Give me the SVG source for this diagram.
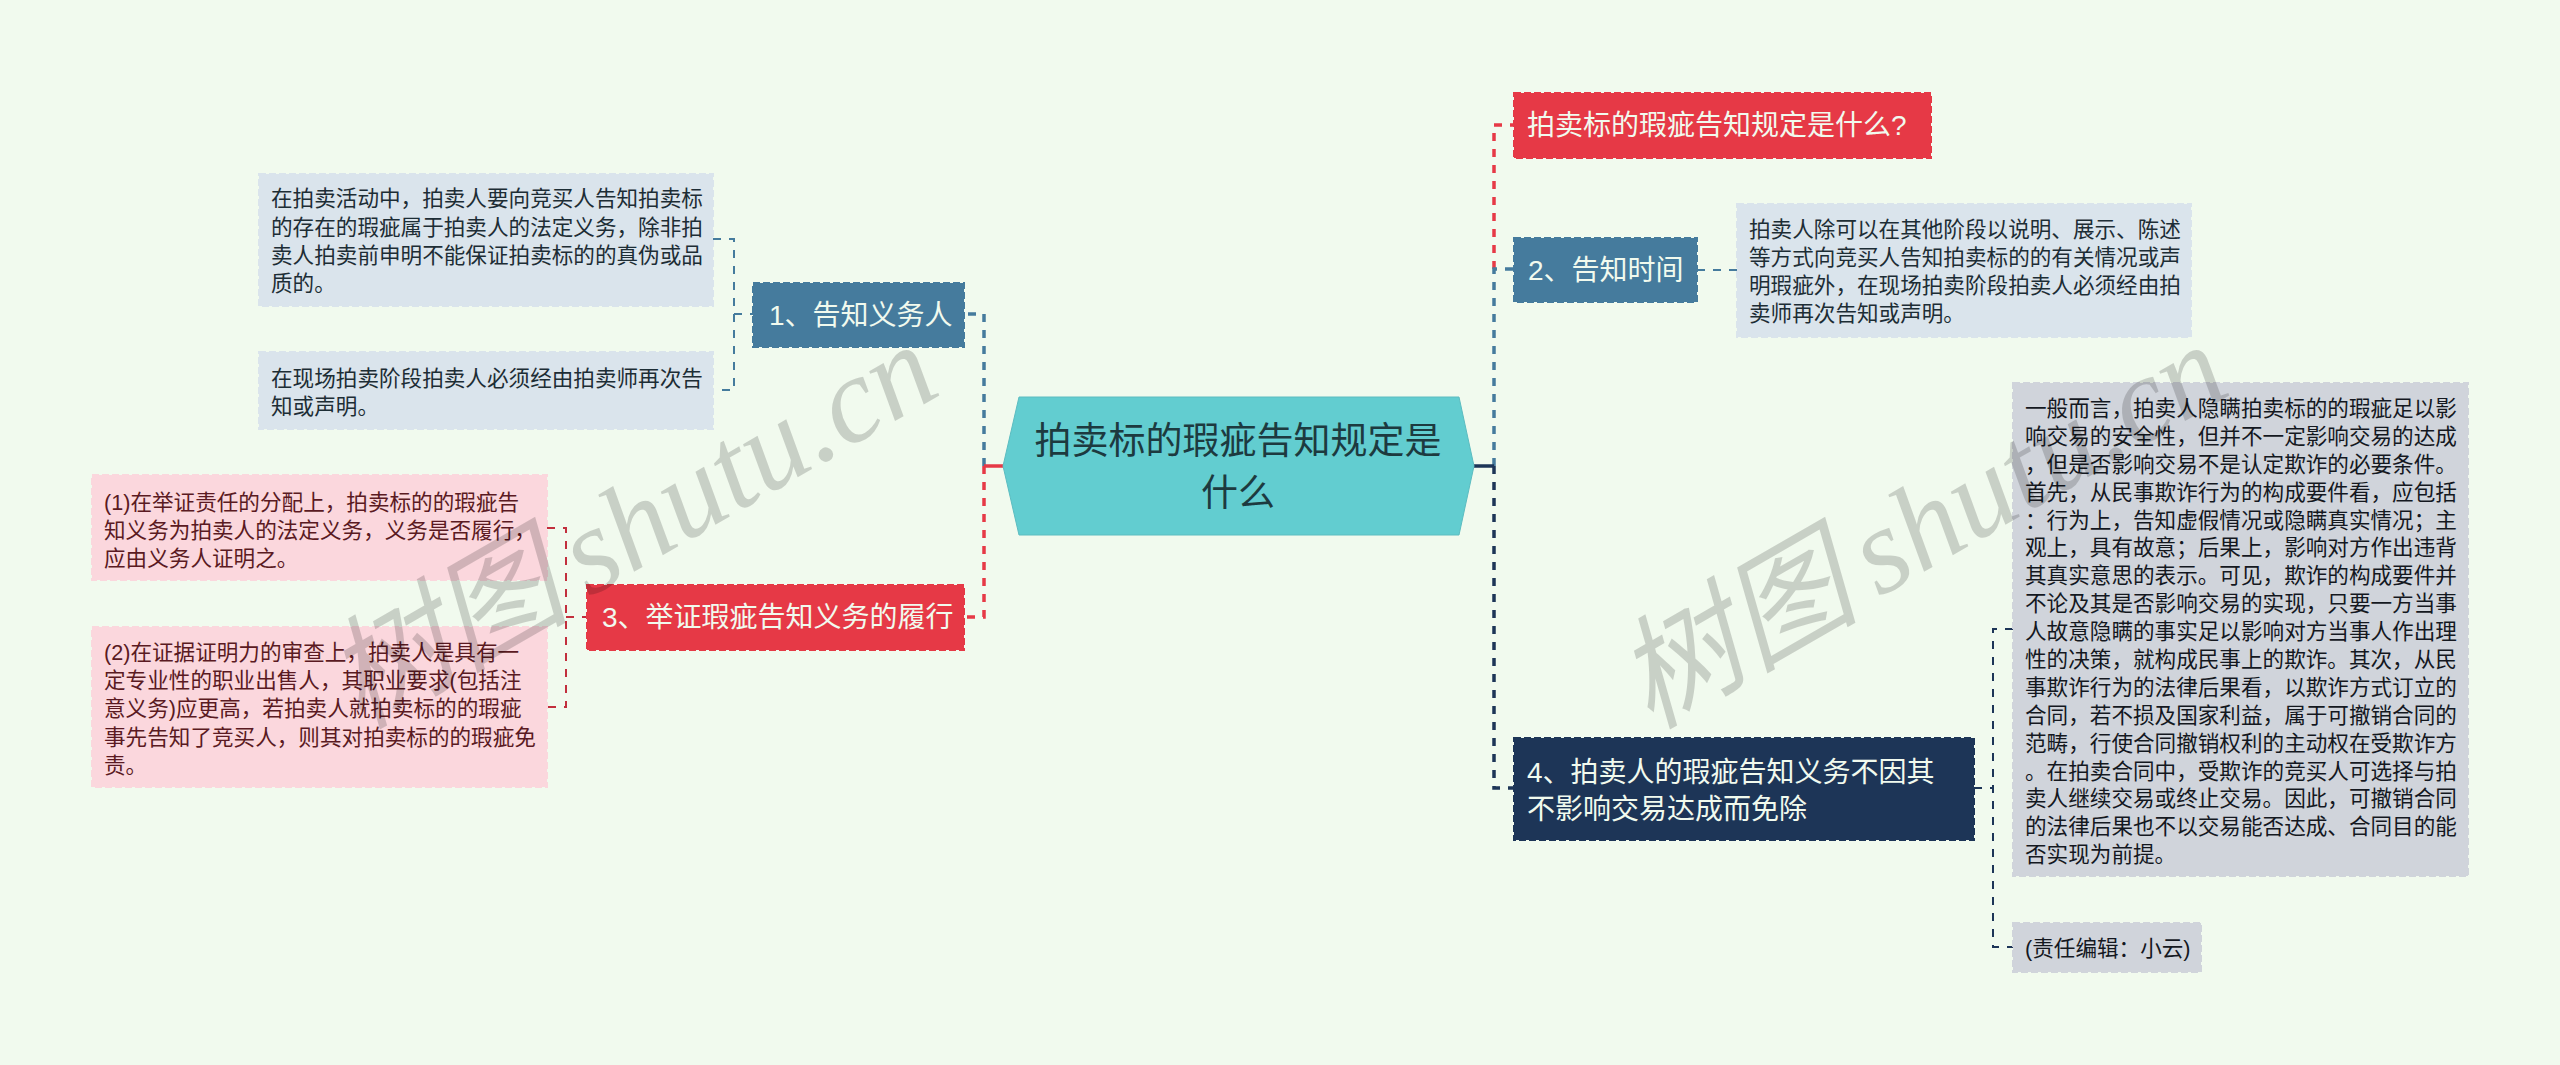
<svg xmlns="http://www.w3.org/2000/svg" width="2560" height="1065" viewBox="0 0 2560 1065">
<style>
text{font-family:"Liberation Sans","Noto Sans CJK SC",sans-serif}
.box{stroke-width:2;stroke-dasharray:7 3}
.t1{font-size:28px;fill:#f1faee}
.t2{font-size:21.6px}
.c1{fill:none;stroke-width:3.5;stroke-dasharray:8 8}
.c2{fill:none;stroke-width:2;stroke-dasharray:8 8}
.red{stroke:#e63946}.blue{stroke:#457b9d}.navy{stroke:#1d3557}
.dred{stroke:#c22f3d}
.wm{font-family:"Liberation Serif","Noto Sans CJK SC",serif;font-size:122px;font-style:italic;fill:#000;fill-opacity:.17}
</style>
<rect width="2560" height="1065" fill="#f1faee"/>
<g id="connectors">
<path class="c1 blue" d="M984 466V314H964" stroke-dashoffset="0"/>
<path class="c1 red" d="M984 466V617H964"/>
<path class="c1 red" d="M1494 269V125H1513" />
<path class="c1 blue" d="M1494 466V269H1513"/>
<path class="c1 navy" d="M1494 466V788H1513"/>
<path d="M984 466H1003" stroke="#e63946" stroke-width="3.5" fill="none"/>
<path d="M1474 466H1494" stroke="#1d3557" stroke-width="3.5" fill="none"/>
<path class="c2 blue" d="M713 239H734V390H713M734 314H753"/>
<path class="c2 dred" d="M547 528H566V707H547M566 617H587"/>
<path class="c2 blue" d="M1697 270H1737"/>
<path class="c2 navy" d="M2013 629H1993V947H2013M1974 788H1993"/>
</g>
<g id="root">
<polygon points="1019,397 1459,397 1474,466 1459,535 1019,535 1003,466" fill="#62cdd0" stroke="#5cbcc0" stroke-width="1"/>
<text x="1238" y="454" text-anchor="middle" font-size="37" fill="#1d3a3f">拍卖标的瑕疵告知规定是</text>
<text x="1238" y="506" text-anchor="middle" font-size="37" fill="#1d3a3f">什么</text>
</g>
<g id="node-top">
<rect class="box" x="1514" y="93" width="417" height="65" fill="#e63946" stroke="#e63946"/>
<text class="t1" x="1527" y="135">拍卖标的瑕疵告知规定是什么?</text>
</g>
<g id="node-2">
<rect class="box" x="1514" y="238" width="183" height="64" fill="#457b9d" stroke="#457b9d"/>
<text class="t1" x="1528" y="280">2、告知时间</text>
</g>
<g id="node-2-detail">
<rect class="box" x="1737" y="204" width="454" height="133" fill="#dae4ec" stroke="#dae4ec"/>
<g class="t2" fill="#1d2d35">
<text x="1749" y="237">拍卖人除可以在其他阶段以说明、展示、陈述</text>
<text x="1749" y="265">等方式向竞买人告知拍卖标的的有关情况或声</text>
<text x="1749" y="293">明瑕疵外&#xFF0C;在现场拍卖阶段拍卖人必须经由拍</text>
<text x="1749" y="321">卖师再次告知或声明。</text>
</g>
</g>
<g id="node-4">
<rect class="box" x="1514" y="738" width="460" height="102" fill="#1d3557" stroke="#1d3557"/>
<text class="t1" x="1527" y="782">4、拍卖人的瑕疵告知义务不因其</text>
<text class="t1" x="1527" y="819">不影响交易达成而免除</text>
</g>
<g id="node-4-detail">
<rect class="box" x="2013" y="383" width="455" height="493" fill="#d0d4db" stroke="#d0d4db"/>
<g class="t2" fill="#14181f">
<text x="2025" y="416">一般而言&#xFF0C;拍卖人隐瞒拍卖标的的瑕疵足以影</text>
<text x="2025" y="444">响交易的安全性&#xFF0C;但并不一定影响交易的达成</text>
<text x="2025" y="472">&#xFF0C;但是否影响交易不是认定欺诈的必要条件。</text>
<text x="2025" y="500">首先&#xFF0C;从民事欺诈行为的构成要件看&#xFF0C;应包括</text>
<text x="2025" y="528">&#xFF1A;行为上&#xFF0C;告知虚假情况或隐瞒真实情况&#xFF1B;主</text>
<text x="2025" y="555">观上&#xFF0C;具有故意&#xFF1B;后果上&#xFF0C;影响对方作出违背</text>
<text x="2025" y="583">其真实意思的表示。可见&#xFF0C;欺诈的构成要件并</text>
<text x="2025" y="611">不论及其是否影响交易的实现&#xFF0C;只要一方当事</text>
<text x="2025" y="639">人故意隐瞒的事实足以影响对方当事人作出理</text>
<text x="2025" y="667">性的决策&#xFF0C;就构成民事上的欺诈。其次&#xFF0C;从民</text>
<text x="2025" y="695">事欺诈行为的法律后果看&#xFF0C;以欺诈方式订立的</text>
<text x="2025" y="723">合同&#xFF0C;若不损及国家利益&#xFF0C;属于可撤销合同的</text>
<text x="2025" y="751">范畴&#xFF0C;行使合同撤销权利的主动权在受欺诈方</text>
<text x="2025" y="779">。在拍卖合同中&#xFF0C;受欺诈的竞买人可选择与拍</text>
<text x="2025" y="806">卖人继续交易或终止交易。因此&#xFF0C;可撤销合同</text>
<text x="2025" y="834">的法律后果也不以交易能否达成、合同目的能</text>
<text x="2025" y="862">否实现为前提。</text>
</g>
</g>
<g id="node-4-editor">
<rect class="box" x="2013" y="923" width="188" height="49" fill="#d0d4db" stroke="#d0d4db"/>
<text class="t2" x="2025" y="956" fill="#14181f">(责任编辑&#xFF1A;小云)</text>
</g>
<g id="node-1">
<rect class="box" x="753" y="283" width="211" height="64" fill="#457b9d" stroke="#457b9d"/>
<text class="t1" x="769" y="325">1、告知义务人</text>
</g>
<g id="node-1-detail-a">
<rect class="box" x="259" y="174" width="454" height="132" fill="#dae4ec" stroke="#dae4ec"/>
<g class="t2" fill="#1d2d35">
<text x="271" y="206">在拍卖活动中&#xFF0C;拍卖人要向竞买人告知拍卖标</text>
<text x="271" y="235">的存在的瑕疵属于拍卖人的法定义务&#xFF0C;除非拍</text>
<text x="271" y="263">卖人拍卖前申明不能保证拍卖标的的真伪或品</text>
<text x="271" y="291">质的。</text>
</g>
</g>
<g id="node-1-detail-b">
<rect class="box" x="259" y="352" width="454" height="77" fill="#dae4ec" stroke="#dae4ec"/>
<g class="t2" fill="#1d2d35">
<text x="271" y="386">在现场拍卖阶段拍卖人必须经由拍卖师再次告</text>
<text x="271" y="414">知或声明。</text>
</g>
</g>
<g id="node-3">
<rect class="box" x="587" y="585" width="377" height="65" fill="#e63946" stroke="#e63946"/>
<text class="t1" x="602" y="627">3、举证瑕疵告知义务的履行</text>
</g>
<g id="node-3-detail-a">
<rect class="box" x="92" y="475" width="455" height="105" fill="#fbd7dd" stroke="#fbd7dd"/>
<g class="t2" fill="#5a1a22">
<text x="104" y="510">(1)在举证责任的分配上&#xFF0C;拍卖标的的瑕疵告</text>
<text x="104" y="538">知义务为拍卖人的法定义务&#xFF0C;义务是否履行&#xFF0C;</text>
<text x="104" y="566">应由义务人证明之。</text>
</g>
</g>
<g id="node-3-detail-b">
<rect class="box" x="92" y="627" width="455" height="160" fill="#fbd7dd" stroke="#fbd7dd"/>
<g class="t2" fill="#5a1a22">
<text x="104" y="660">(2)在证据证明力的审查上&#xFF0C;拍卖人是具有一</text>
<text x="104" y="688">定专业性的职业出售人&#xFF0C;其职业要求(包括注</text>
<text x="104" y="716">意义务)应更高&#xFF0C;若拍卖人就拍卖标的的瑕疵</text>
<text x="104" y="745">事先告知了竞买人&#xFF0C;则其对拍卖标的的瑕疵免</text>
<text x="104" y="773">责。</text>
</g>
</g>
<g id="watermarks">
<text class="wm" transform="translate(360 730) rotate(-30)">树图 <tspan dx="-10">shutu.cn</tspan></text>
<text class="wm" transform="translate(1650 730) rotate(-30)">树图 <tspan dx="-10">shutu.cn</tspan></text>
</g>
</svg>
